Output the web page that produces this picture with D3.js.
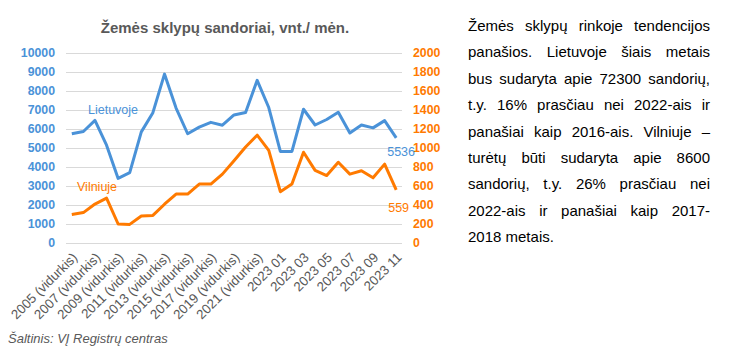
<!DOCTYPE html>
<html>
<head>
<meta charset="utf-8">
<script src="https://cdn.jsdelivr.net/npm/d3@7"></script>
<style>
  body { margin: 0; background: #fff; font-family: "Liberation Sans", Arial, sans-serif; }
  #wrap { position: relative; width: 732px; height: 352px; }
  .para { position: absolute; left: 468px; width: 242px; font-size: 15px; color: #000;
          white-space: nowrap; text-align: justify; text-align-last: justify; }
  .para.last { text-align-last: left; }
</style>
</head>
<body>
<div id="wrap">
  <svg class="chart" width="732" height="352"></svg>
</div>
<script>
// categories: yearly averages then 2023 months
var years = [2005,2006,2007,2008,2009,2010,2011,2012,2013,2014,2015,2016,2017,2018,2019,2020,2021,2022];
var months = ["01","02","03","04","05","06","07","08","09","10","11"];
var categories = years.map(function(y){ return y + " (vidurkis)"; })
    .concat(months.map(function(m){ return "2023 " + m; }));

// Lietuvoje, left axis (vnt./mėn.)
var lietuvoje = [5750,5870,6450,5150,3400,3700,5850,6860,8890,7100,5750,6100,6350,6200,6740,6870,8560,7130,
                 4820,4820,7040,6210,6500,6880,5790,6210,6060,6440,5536];
// Vilniuje, right axis
var vilniuje = [300,320,410,472,200,196,285,290,408,515,515,620,620,725,865,1010,1135,975,
                540,620,955,765,710,850,725,760,686,830,559];

var leftTicks = d3.range(0, 10001, 1000);
var rightTicks = d3.range(0, 2001, 200);

var paragraph = [
  "Žemės sklypų rinkoje tendencijos",
  "panašios. Lietuvoje šiais metais",
  "bus sudaryta apie 72300 sandorių,",
  "t.y. 16% prasčiau nei 2022-ais ir",
  "panašiai kaip 2016-ais. Vilniuje –",
  "turėtų būti sudaryta apie 8600",
  "sandorių, t.y. 26% prasčiau nei",
  "2022-ais ir panašiai kaip 2017-",
  "2018 metais."
];

var colors = {blue: "#4a92d8", orange: "#ff7a00", grid: "#d9d9d9", text: "#595959"};

var margin = {top: 53, left: 66, right: 330, bottom: 109},
    width = 402 - margin.left,
    height = 243 - margin.top;

var svg = d3.select(".chart");

var x = d3.scalePoint()
    .domain(categories)
    .range([margin.left, margin.left + width])
    .padding(0.5);

var yL = d3.scaleLinear().domain([0, 10000]).range([margin.top + height, margin.top]);
var yR = d3.scaleLinear().domain([0, 2000]).range([margin.top + height, margin.top]);

// title
svg.append("text")
    .attr("x", 225)
    .attr("y", 33)
    .attr("text-anchor", "middle")
    .style("font-size", "15px")
    .style("font-weight", "bold")
    .style("fill", colors.text)
    .text("Žemės sklypų sandoriai, vnt./ mėn.");

// gridlines
var grid = svg.append("g")
    .attr("transform", "translate(" + margin.left + ",0)")
    .call(d3.axisLeft(yL).tickValues(leftTicks).tickSize(-width).tickFormat(""));
grid.select(".domain").remove();
grid.selectAll("line").attr("stroke", colors.grid).style("shape-rendering", "crispEdges");

// left axis
var gl = svg.append("g")
    .attr("transform", "translate(" + margin.left + ",0)")
    .call(d3.axisLeft(yL).tickValues(leftTicks).tickSize(0).tickPadding(11).tickFormat(d3.format("d")));
gl.select(".domain").remove();
gl.selectAll("text")
    .style("font-family", "Liberation Sans, Arial, sans-serif")
    .style("font-size", "12.3px")
    .style("font-weight", "bold")
    .attr("fill", colors.blue);

// right axis
var gr = svg.append("g")
    .attr("transform", "translate(" + (margin.left + width) + ",0)")
    .call(d3.axisRight(yR).tickValues(rightTicks).tickSize(0).tickPadding(11).tickFormat(d3.format("d")));
gr.select(".domain").remove();
gr.selectAll("text")
    .style("font-family", "Liberation Sans, Arial, sans-serif")
    .style("font-size", "12.3px")
    .style("font-weight", "bold")
    .attr("fill", colors.orange);

// x labels, every other category
svg.append("g").selectAll("text")
    .data(categories.filter(function(d, i){ return i % 2 == 0; }))
    .enter().append("text")
    .attr("transform", function(d){ return "translate(" + (x(d) + 3) + "," + 255 + ") rotate(-45)"; })
    .attr("text-anchor", "end")
    .attr("dy", "0.35em")
    .style("font-size", "13.3px")
    .style("fill", colors.text)
    .text(function(d){ return d; });

// lines
var lineL = d3.line()
    .x(function(d, i){ return x(categories[i]); })
    .y(function(d){ return yL(d); });
var lineR = d3.line()
    .x(function(d, i){ return x(categories[i]); })
    .y(function(d){ return yR(d); });

svg.append("path")
    .datum(lietuvoje)
    .attr("d", lineL)
    .attr("fill", "none")
    .attr("stroke", colors.blue)
    .attr("stroke-width", 3)
    .attr("stroke-linejoin", "round");

svg.append("path")
    .datum(vilniuje)
    .attr("d", lineR)
    .attr("fill", "none")
    .attr("stroke", colors.orange)
    .attr("stroke-width", 3)
    .attr("stroke-linejoin", "round");

// series labels
svg.append("text")
    .attr("x", 88).attr("y", 114)
    .style("font-size", "12.5px")
    .style("fill", colors.blue)
    .text("Lietuvoje");
svg.append("text")
    .attr("x", 77).attr("y", 191)
    .style("font-size", "12.5px")
    .style("fill", colors.orange)
    .text("Vilniuje");

// last values
var last = categories.length - 1;
svg.append("text")
    .attr("x", x(categories[last]) - 9)
    .attr("y", yL(lietuvoje[last]) + 18)
    .style("font-size", "12.5px")
    .style("fill", colors.blue)
    .text(lietuvoje[last]);
svg.append("text")
    .attr("x", x(categories[last]) - 8)
    .attr("y", yR(vilniuje[last]) + 22)
    .style("font-size", "12.5px")
    .style("fill", colors.orange)
    .text(vilniuje[last]);

// source
svg.append("text")
    .attr("x", 8).attr("y", 343)
    .style("font-size", "13px")
    .style("font-style", "italic")
    .style("fill", colors.text)
    .text("Šaltinis: VĮ Registrų centras");

// paragraph on the right
d3.select("#wrap").selectAll("div.para")
    .data(paragraph)
    .enter().append("div")
    .attr("class", function(d, i){ return "para" + (i == paragraph.length - 1 ? " last" : ""); })
    .style("top", function(d, i){ return (31 + i * 26.4 - 14) + "px"; })
    .style("line-height", "17px")
    .text(function(d){ return d; });
</script>
</body>
</html>
